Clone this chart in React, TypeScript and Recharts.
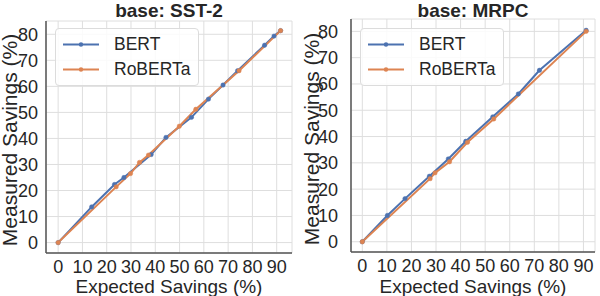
import { CartesianGrid, Legend, Line, LineChart, XAxis, YAxis } from 'recharts'

// SST-2 panel
const sstBertX = [0, 13.8, 23.2, 27.1, 38.3, 44.4, 54.9, 61.9, 67.9, 73.9, 85, 88.9, 91.6]
const sstBertY = [0, 13.7, 22.3, 25, 33.8, 40.4, 48.1, 55.1, 60.5, 66, 75.8, 79.3, 81.4]
const sstRobertaX = [0, 23.9, 29.8, 33.5, 37.2, 49.9, 56.7, 74.5, 91.6]
const sstRobertaY = [0, 21.4, 26.5, 30.8, 33.6, 44.7, 51.2, 66, 81.4]

// MRPC panel
const mrpcBertX = [0, 10.2, 17.4, 27.3, 35, 42.1, 53.1, 63.5, 72.1, 91.1]
const mrpcBertY = [0, 10, 16.4, 24.9, 31.5, 38.2, 47.5, 56.2, 65.2, 80.4]
const mrpcRobertaX = [0, 27.6, 29.6, 35.5, 42.8, 53.5, 91.1]
const mrpcRobertaY = [0, 24, 26.2, 30.4, 37.8, 46.7, 80]

const xTicks = [0, 10, 20, 30, 40, 50, 60, 70, 80, 90]
const yTicks = [0, 10, 20, 30, 40, 50, 60, 70, 80]

const BLUE = '#4c72b0'
const ORANGE = '#dd8452'
const FONT = '"Liberation Sans", Arial, sans-serif'
const TEXT = '#262626'
const SPINE = '#555555'

const toPts = (xs: number[], ys: number[]) => xs.map((x, i) => ({ x, y: ys[i] }))

const XTick = ({ x, y, payload }: any) => (
  <text x={x} y={y} dy="0.72em" textAnchor="middle" fontSize={18} fill={TEXT} fontFamily={FONT}>
    {payload.value}
  </text>
)

const YTick = ({ x, y, payload }: any) => (
  <text x={x} y={y} dy="0.36em" textAnchor="end" fontSize={18} fill={TEXT} fontFamily={FONT}>
    {payload.value}
  </text>
)

const LegendBox = ({ payload }: any) => (
  <div
    style={{
      width: 142,
      height: 53,
      border: '1px solid #dcdcdc',
      borderRadius: 4,
      background: 'rgba(255,255,255,0.85)',
      paddingTop: 3,
      boxSizing: 'content-box',
    }}
  >
    {(payload || []).map((p: any) => (
      <div key={p.value} style={{ display: 'flex', alignItems: 'center', height: 25 }}>
        <svg width={51} height={25} style={{ flex: 'none' }}>
          <line x1={7} x2={43} y1={12.5} y2={12.5} stroke={p.color} strokeWidth={2} />
          <circle cx={25} cy={12.5} r={2.2} fill={p.color} />
        </svg>
        <span style={{ marginLeft: 7, fontFamily: FONT, fontSize: 17.5, color: TEXT, whiteSpace: 'nowrap' }}>
          {p.value}
        </span>
      </div>
    ))}
  </div>
)

interface PanelProps {
  title: string
  bert: { x: number; y: number }[]
  roberta: { x: number; y: number }[]
  xDomain: [number, number]
  yDomain: [number, number]
  left: number
  top: number
  right: number
  yWidth: number
  xHeight: number
  yTickMargin: number
  labelX: number
  legendLeft: number
}

const textBase = {
  position: 'absolute' as const,
  fontFamily: FONT,
  color: TEXT,
  fontSize: 19,
  lineHeight: '19px',
  textAlign: 'center' as const,
  whiteSpace: 'nowrap' as const,
}

const Panel = (p: PanelProps) => {
  const plotWidth = 300 - p.yWidth - p.right
  const plotHeight = 296 - p.top - p.xHeight
  const labelMidY = p.top + plotHeight / 2 + 3
  return (
    <div style={{ position: 'absolute', left: p.left, top: 0, width: 300, height: 296 }}>
      <div style={{ ...textBase, left: p.yWidth, top: 1, width: plotWidth, fontWeight: 'bold' }}>{p.title}</div>
      <div style={{ ...textBase, left: p.yWidth, top: 277, width: plotWidth }}>Expected Savings (%)</div>
      <div
        style={{
          ...textBase,
          fontSize: 21,
          lineHeight: '20px',
          left: p.labelX - 120,
          top: labelMidY - 10,
          width: 240,
          height: 20,
          transform: 'rotate(-90deg)',
          transformOrigin: '50% 50%',
        }}
      >
        Measured Savings (%)
      </div>
      <LineChart width={300} height={296} margin={{ top: p.top, right: p.right, bottom: 0, left: 0 }}>
        <CartesianGrid stroke="#dedede" strokeWidth={1} />
        <XAxis
          type="number"
          dataKey="x"
          domain={p.xDomain}
          ticks={xTicks}
          allowDataOverflow
          height={p.xHeight}
          tickLine={false}
          tickSize={0}
          tickMargin={7}
          axisLine={{ stroke: SPINE, strokeWidth: 1.5 }}
          tick={<XTick />}
        />
        <YAxis
          type="number"
          dataKey="y"
          domain={p.yDomain}
          ticks={yTicks}
          allowDataOverflow
          width={p.yWidth}
          tickLine={false}
          tickSize={0}
          tickMargin={p.yTickMargin}
          axisLine={{ stroke: SPINE, strokeWidth: 1.5 }}
          tick={<YTick />}
        />
        <XAxis
          xAxisId="top"
          orientation="top"
          type="number"
          domain={[0, 1]}
          allowDataOverflow
          height={0}
          tick={false}
          tickLine={false}
          axisLine={{ stroke: SPINE, strokeWidth: 1.5 }}
        />
        <YAxis
          yAxisId="right"
          orientation="right"
          type="number"
          domain={[0, 1]}
          allowDataOverflow
          width={0}
          tick={false}
          tickLine={false}
          axisLine={{ stroke: SPINE, strokeWidth: 1.5 }}
        />
        <Line
          data={p.bert}
          dataKey="y"
          name="BERT"
          type="linear"
          stroke={BLUE}
          strokeWidth={2}
          dot={{ r: 2.2, fill: BLUE, stroke: BLUE, strokeWidth: 0.5 }}
          activeDot={false}
          isAnimationActive={false}
        />
        <Line
          data={p.roberta}
          dataKey="y"
          name="RoBERTa"
          type="linear"
          stroke={ORANGE}
          strokeWidth={2}
          dot={{ r: 2.2, fill: ORANGE, stroke: ORANGE, strokeWidth: 0.5 }}
          activeDot={false}
          isAnimationActive={false}
        />
        <Legend
          layout="vertical"
          align="center"
          verticalAlign="middle"
          content={<LegendBox />}
          wrapperStyle={{ left: p.legendLeft, top: 28, width: 144, height: 56 }}
        />
      </LineChart>
    </div>
  )
}

export default function App() {
  return (
    <div style={{ position: 'absolute', left: 0, top: 0, width: 600, height: 296, background: '#fff' }}>
      <Panel
        title="base: SST-2"
        bert={toPts(sstBertX, sstBertY)}
        roberta={toPts(sstRobertaX, sstRobertaY)}
        xDomain={[-5, 96.3]}
        yDomain={[-4, 85.1]}
        left={0}
        top={21}
        right={8}
        yWidth={46}
        xHeight={43}
        yTickMargin={8}
        labelX={10}
        legendLeft={55}
      />
      <Panel
        title="base: MRPC"
        bert={toPts(mrpcBertX, mrpcBertY)}
        roberta={toPts(mrpcRobertaX, mrpcRobertaY)}
        xDomain={[-4.6, 94.7]}
        yDomain={[-3.9, 84.7]}
        left={300}
        top={19}
        right={5}
        yWidth={51}
        xHeight={44}
        yTickMargin={13}
        labelX={12}
        legendLeft={60}
      />
    </div>
  )
}
